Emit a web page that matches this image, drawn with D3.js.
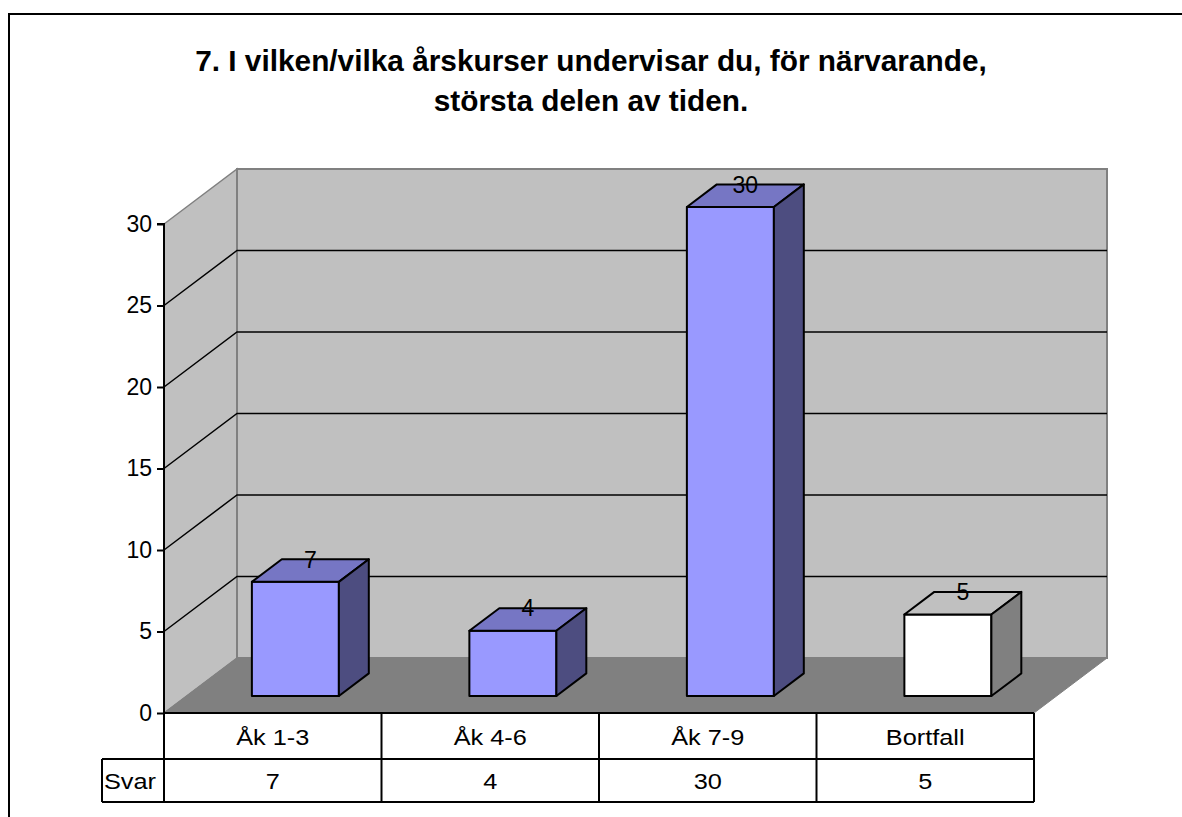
<!DOCTYPE html>
<html>
<head>
<meta charset="utf-8">
<script src="https://cdn.jsdelivr.net/npm/d3@7/dist/d3.min.js"></script>
<style>
  body { margin: 0; background: #fff; }
  text { font-family: Arial, "Liberation Sans", sans-serif; fill: #000; }
</style>
</head>
<body>
<div class="canvas"></div>
<script>
/////////////////////////////////////////////////
// Data
/////////////////////////////////////////////////

const titleLines = [
  "7. I vilken/vilka årskurser undervisar du, för närvarande,",
  "största delen av tiden.",
];
const categories = ["Åk 1-3", "Åk 4-6", "Åk 7-9", "Bortfall"];
const values = [7, 4, 30, 5];
const seriesName = "Svar";
const yTicks = [0, 5, 10, 15, 20, 25, 30];

/////////////////////////////////////////////////
// Setup
/////////////////////////////////////////////////

const width = 1182;
const height = 817;

// front plane of the 3d box and the depth offset to the back wall
const plot = { left: 164, right: 1034, top: 224, bottom: 713 };
const depth = { dx: 73, dy: -55 };

const x = d3.scaleBand().domain(categories).range([plot.left, plot.right]);
const y = d3.scaleLinear().domain([0, 30]).range([plot.bottom, plot.top]);
const dz = d3.scaleLinear().domain([0, 1]).range([0, 1]);

const barFront = 0.31;
const barBack = 0.72;
const barWidth = x.bandwidth() * 0.4;

const normal = { front: "#9999ff", top: "#7676c4", side: "#4d4d80" };
const missing = { front: "#ffffff", top: "#c0c0c0", side: "#808080" };

const svg = d3
  .select(".canvas")
  .append("svg")
  .attr("width", width)
  .attr("height", height);

const line = d3.line();
const off = (p, t) => [p[0] + depth.dx * dz(t), p[1] + depth.dy * dz(t)];

// the original text is drawn a bit wider than Arial, so stretch it sideways
function widen(sel, k) {
  sel.each(function () {
    const w = this.getComputedTextLength();
    d3.select(this).attr("textLength", w * k).attr("lengthAdjust", "spacingAndGlyphs");
  });
}

// outer frame (only top and left edges are in view)
svg
  .append("path")
  .attr("d", line([[9, height], [9, 14], [width, 14]]))
  .attr("fill", "none")
  .attr("stroke", "#000")
  .attr("stroke-width", 2);

// Title
svg
  .append("g")
  .selectAll("text")
  .data(titleLines)
  .join("text")
  .attr("x", 591)
  .attr("y", (d, i) => 71 + i * 40)
  .attr("text-anchor", "middle")
  .attr("font-size", 29.5)
  .attr("font-weight", "bold")
  .text((d) => d)
  .call(widen, 1.01);

/////////////////////////////////////////////////
// Walls and floor
/////////////////////////////////////////////////

const y0 = y(0);
const yMax = y(30);

// side wall
svg
  .append("path")
  .attr("d", line([[plot.left, y0], [plot.left, yMax], off([plot.left, yMax], 1), off([plot.left, y0], 1)]) + "Z")
  .attr("fill", "#c0c0c0")
  .attr("stroke", "#808080")
  .attr("stroke-width", 1.5);

// back wall
const backL = off([plot.left, yMax], 1);
const backR = off([plot.right, y0], 1);
svg
  .append("rect")
  .attr("x", backL[0])
  .attr("y", backL[1])
  .attr("width", backR[0] - backL[0])
  .attr("height", backR[1] - backL[1])
  .attr("fill", "#c0c0c0")
  .attr("stroke", "#808080")
  .attr("stroke-width", 2);

// floor
svg
  .append("path")
  .attr("d", line([[plot.left, y0], off([plot.left, y0], 1), off([plot.right, y0], 1), [plot.right, y0]]) + "Z")
  .attr("fill", "#808080")
  .attr("stroke", "#808080")
  .attr("stroke-width", 1);

// gridlines: diagonal on side wall + horizontal on back wall
const grid = svg.append("g");
yTicks
  .filter((t) => t > 0 && t < 30)
  .forEach((t) => {
    const a = [plot.left, y(t)];
    const b = off(a, 1);
    const c = off([plot.right, y(t)], 1);
    grid
      .append("path")
      .attr("d", line([a, b, c]))
      .attr("fill", "none")
      .attr("stroke", "#000")
      .attr("stroke-width", 1.5);
  });

/////////////////////////////////////////////////
// Bars
/////////////////////////////////////////////////

const bars = svg
  .append("g")
  .selectAll("g")
  .data(categories.map((c, i) => ({ cat: c, value: values[i] })))
  .join("g");

bars.each(function (d, i) {
  const g = d3.select(this);
  const col = d.cat === "Bortfall" ? missing : normal;
  const xl = x(d.cat) + (x.bandwidth() - barWidth) / 2;
  const xr = xl + barWidth;
  const fTL = off([xl, y(d.value)], barFront);
  const fTR = off([xr, y(d.value)], barFront);
  const fBR = off([xr, y0], barFront);
  const fBL = off([xl, y0], barFront);
  const bTL = off([xl, y(d.value)], barBack);
  const bTR = off([xr, y(d.value)], barBack);
  const bBR = off([xr, y0], barBack);

  const face = (pts, fill) =>
    g
      .append("path")
      .attr("d", line(pts) + "Z")
      .attr("fill", fill)
      .attr("stroke", "#000")
      .attr("stroke-width", 2)
      .attr("stroke-linejoin", "round");

  face([fTL, fTR, fBR, fBL], col.front);
  face([fTL, bTL, bTR, fTR], col.top);
  face([fTR, bTR, bBR, fBR], col.side);

  // value label above the bar top
  const mid = off([x(d.cat) + x.bandwidth() / 2, y(d.value)], (barFront + barBack) / 2);
  g.append("text")
    .attr("x", mid[0])
    .attr("y", mid[1] - 3)
    .attr("text-anchor", "middle")
    .attr("font-size", 23)
    .text(d.value);
});

/////////////////////////////////////////////////
// Axis
/////////////////////////////////////////////////

const yAxis = d3.axisLeft(y).tickValues(yTicks).tickSize(7).tickPadding(5);
const axisG = svg
  .append("g")
  .attr("transform", `translate(${plot.left}, 0)`)
  .call(yAxis);
axisG.select(".domain").attr("stroke-width", 2).attr("d", `M-7,${yMax}H0V${y0}`);
axisG.selectAll(".tick line").attr("stroke-width", 2);
axisG
  .selectAll(".tick text")
  .attr("font-size", 23)
  .attr("font-family", "Arial, 'Liberation Sans', sans-serif");

/////////////////////////////////////////////////
// Data table
/////////////////////////////////////////////////

const row1 = { top: y0, bottom: 759 };
const row2 = { top: 759, bottom: 802 };
const labelLeft = 102;

const table = svg.append("g").attr("fill", "none").attr("stroke", "#000").attr("stroke-width", 2);
table.append("path").attr("d", line([[plot.left, row1.top], [plot.right, row1.top]]));
table.append("path").attr("d", line([[labelLeft, row2.top], [plot.right, row2.top]]));
table.append("path").attr("d", line([[labelLeft, row2.bottom], [plot.right, row2.bottom]]));
table.append("path").attr("d", line([[labelLeft, row2.top], [labelLeft, row2.bottom]]));
table.append("path").attr("d", line([[plot.left, row1.top], [plot.left, row2.bottom]]));
categories.forEach((c) => {
  const xr = x(c) + x.bandwidth();
  table.append("path").attr("d", line([[xr, row1.top], [xr, row2.bottom]]));
});

svg
  .append("g")
  .selectAll("text")
  .data(categories)
  .join("text")
  .attr("x", (d) => x(d) + x.bandwidth() / 2)
  .attr("y", 745)
  .attr("text-anchor", "middle")
  .attr("font-size", 22)
  .text((d) => d)
  .call(widen, 1.15);

svg
  .append("g")
  .selectAll("text")
  .data(values)
  .join("text")
  .attr("x", (d, i) => x(categories[i]) + x.bandwidth() / 2)
  .attr("y", 789)
  .attr("text-anchor", "middle")
  .attr("font-size", 22)
  .text((d) => d)
  .call(widen, 1.15);

svg
  .append("text")
  .attr("x", 130)
  .attr("y", 789)
  .attr("text-anchor", "middle")
  .attr("font-size", 22)
  .text(seriesName)
  .call(widen, 1.15);
</script>
</body>
</html>
